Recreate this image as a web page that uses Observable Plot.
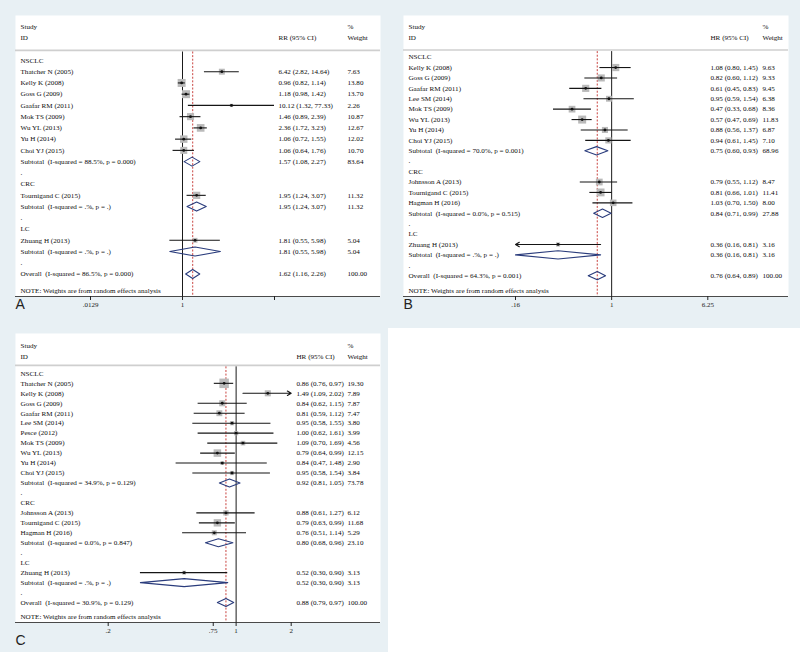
<!DOCTYPE html>
<html><head><meta charset="utf-8">
<script src="https://cdn.jsdelivr.net/npm/d3@7"></script>
<script src="https://cdn.jsdelivr.net/npm/@observablehq/plot@0.6"></script>
<style>
body{margin:0;background:#fff;}
#fig{position:relative;width:800px;height:652px;background:#e8f0f4;overflow:hidden;}
#blank{position:absolute;left:388px;top:328px;width:412px;height:324px;background:#fff;}
.panel{position:absolute;width:400px;}
</style></head><body>
<div id="fig"><div id="blank"></div></div>
<script>
const groups = ["NSCLC", "CRC", "LC"];

// ---- Panel A (RR) ----
const studyA  = ["Thatcher N (2005)", "Kelly K (2008)", "Goss G (2009)", "Gaafar RM (2011)", "Mok TS (2009)", "Wu YL (2013)", "Yu H (2014)", "Choi YJ (2015)", "Tournigand C (2015)", "Zhuang H (2013)"];
const groupA  = ["NSCLC","NSCLC","NSCLC","NSCLC","NSCLC","NSCLC","NSCLC","NSCLC","CRC","LC"];
const estA    = [6.42, 0.96, 1.18, 10.12, 1.46, 2.36, 1.06, 1.06, 1.95, 1.81];
const lowA    = [2.82, 0.82, 0.98, 1.32, 0.89, 1.72, 0.72, 0.64, 1.24, 0.55];
const highA   = [14.64, 1.14, 1.42, 77.33, 2.39, 3.23, 1.55, 1.76, 3.07, 5.98];
const weightA = [7.63, 13.80, 13.70, 2.26, 10.87, 12.67, 12.02, 10.70, 11.32, 5.04];
const sumLabelA  = ["Subtotal  (I-squared = 88.5%, p = 0.000)", "Subtotal  (I-squared = .%, p = .)", "Subtotal  (I-squared = .%, p = .)", "Overall  (I-squared = 86.5%, p = 0.000)"];
const sumEstA    = [1.57, 1.95, 1.81, 1.62];
const sumLowA    = [1.08, 1.24, 0.55, 1.16];
const sumHighA   = [2.27, 3.07, 5.98, 2.26];
const sumWeightA = [83.64, 11.32, 5.04, 100.00];
const tickValA = [0.01293, 1, 77.33];
const tickLabA = [".0129", "1", "77.3"];
const effectA = "RR (95% CI)";

// ---- Panel B (HR) ----
const studyB  = ["Kelly K (2008)", "Goss G (2009)", "Gaafar RM (2011)", "Lee SM (2014)", "Mok TS (2009)", "Wu YL (2013)", "Yu H (2014)", "Choi YJ (2015)", "Johnsson A (2013)", "Tournigand C (2015)", "Hagman H (2016)", "Zhuang H (2013)"];
const groupB  = ["NSCLC","NSCLC","NSCLC","NSCLC","NSCLC","NSCLC","NSCLC","NSCLC","CRC","CRC","CRC","LC"];
const estB    = [1.08, 0.82, 0.61, 0.95, 0.47, 0.57, 0.88, 0.94, 0.79, 0.81, 1.03, 0.36];
const lowB    = [0.80, 0.60, 0.45, 0.59, 0.33, 0.47, 0.56, 0.61, 0.55, 0.66, 0.70, 0.16];
const highB   = [1.45, 1.12, 0.83, 1.54, 0.68, 0.69, 1.37, 1.45, 1.12, 1.01, 1.50, 0.81];
const weightB = [9.63, 9.33, 9.45, 6.38, 8.36, 11.83, 6.87, 7.10, 8.47, 11.41, 8.00, 3.16];
const sumLabelB  = ["Subtotal  (I-squared = 70.0%, p = 0.001)", "Subtotal  (I-squared = 0.0%, p = 0.515)", "Subtotal  (I-squared = .%, p = .)", "Overall  (I-squared = 64.3%, p = 0.001)"];
const sumEstB    = [0.75, 0.84, 0.36, 0.76];
const sumLowB    = [0.60, 0.71, 0.16, 0.64];
const sumHighB   = [0.93, 0.99, 0.81, 0.89];
const sumWeightB = [68.96, 27.88, 3.16, 100.00];
const tickValB = [0.16, 1, 6.25];
const tickLabB = [".16", "1", "6.25"];
const effectB = "HR (95% CI)";

// ---- Panel C (HR) ----
const studyC  = ["Thatcher N (2005)", "Kelly K (2008)", "Goss G (2009)", "Gaafar RM (2011)", "Lee SM (2014)", "Pesce (2012)", "Mok TS (2009)", "Wu YL (2013)", "Yu H (2014)", "Choi YJ (2015)", "Johnsson A (2013)", "Tournigand C (2015)", "Hagman H (2016)", "Zhuang H (2013)"];
const groupC  = ["NSCLC","NSCLC","NSCLC","NSCLC","NSCLC","NSCLC","NSCLC","NSCLC","NSCLC","NSCLC","CRC","CRC","CRC","LC"];
const estC    = [0.86, 1.49, 0.84, 0.81, 0.95, 1.00, 1.09, 0.79, 0.84, 0.95, 0.88, 0.79, 0.76, 0.52];
const lowC    = [0.76, 1.09, 0.62, 0.59, 0.58, 0.62, 0.70, 0.64, 0.47, 0.58, 0.61, 0.63, 0.51, 0.30];
const highC   = [0.97, 2.02, 1.15, 1.12, 1.55, 1.61, 1.69, 0.99, 1.48, 1.54, 1.27, 0.99, 1.14, 0.90];
const weightC = [19.30, 7.89, 7.87, 7.47, 3.80, 3.99, 4.56, 12.15, 2.90, 3.84, 6.12, 11.68, 5.29, 3.13];
const sumLabelC  = ["Subtotal  (I-squared = 34.9%, p = 0.129)", "Subtotal  (I-squared = 0.0%, p = 0.847)", "Subtotal  (I-squared = .%, p = .)", "Overall  (I-squared = 30.9%, p = 0.129)"];
const sumEstC    = [0.92, 0.80, 0.52, 0.88];
const sumLowC    = [0.81, 0.68, 0.30, 0.79];
const sumHighC   = [1.05, 0.96, 0.90, 0.97];
const sumWeightC = [73.78, 23.10, 3.13, 100.00];
const tickValC = [0.2, 0.75, 1, 2];
const tickLabC = [".2", ".75", "1", "2"];
const effectC = "HR (95% CI)";

const noteText = "NOTE: Weights are from random effects analysis";

function buildRows(study, group, est, lo, hi, w, sLab, sEst, sLo, sHi, sW) {
  const labels = [], studies = [], summaries = [];
  let r = 0;
  groups.forEach((g, gi) => {
    labels.push({row: r, text: g}); r++;
    study.forEach((s, i) => {
      if (group[i] === g) { studies.push({row: r, label: s, est: est[i], lo: lo[i], hi: hi[i], w: w[i]}); r++; }
    });
    summaries.push({row: r, label: sLab[gi], est: sEst[gi], lo: sLo[gi], hi: sHi[gi], w: sW[gi]}); r++;
    labels.push({row: r, text: "."}); r++;
  });
  summaries.push({row: r, label: sLab[3], est: sEst[3], lo: sLo[3], hi: sHi[3], w: sW[3]});
  return {labels, studies, summaries};
}

function forest(p) {
  const {labels, studies, summaries} = p.rows;
  const overall = summaries[summaries.length - 1];
  const [dmin, dmax] = p.xDomain;
  const clamp = v => Math.max(dmin, Math.min(dmax, v));
  const leftArrow = d => d.lo <= dmin * 1.001;
  const rightArrow = d => d.hi > dmax * 1.001;
  const plain = studies.filter(d => !leftArrow(d) && !rightArrow(d));
  const arrows = studies.filter(d => leftArrow(d) || rightArrow(d))
    .map(d => leftArrow(d) ? {row: d.row, from: clamp(d.hi), to: dmin} : {row: d.row, from: clamp(d.lo), to: dmax});
  const h = 0.4;
  const diamonds = summaries.flatMap((s, i) => [
    {id: i, x: clamp(s.lo), y: s.row}, {id: i, x: s.est, y: s.row - h},
    {id: i, x: clamp(s.hi), y: s.row}, {id: i, x: s.est, y: s.row + h},
    {id: i, x: clamp(s.lo), y: s.row}
  ]);
  const names = [...labels.map(d => ({row: d.row, text: d.text})),
                 ...studies.map(d => ({row: d.row, text: d.label})),
                 ...summaries.map(d => ({row: d.row, text: d.label})),
                 {row: overall.row + 1.45, text: noteText},
                 {row: p.studyRow, text: "Study"}, {row: p.idRow, text: "ID"}];
  const all = [...studies, ...summaries];
  const cis = [...all.map(d => ({row: d.row, text: `${d.est.toFixed(2)} (${d.lo.toFixed(2)}, ${d.hi.toFixed(2)})`})),
               {row: p.idRow, text: p.effect}];
  const ws = [...all.map(d => ({row: d.row, text: d.w.toFixed(2)})),
              {row: p.studyRow, text: "%"}, {row: p.idRow, text: "Weight"}];
  const tickMap = new Map(p.ticks.map((t, i) => [t, p.tickLabels[i]]));
  const wmax = d3.max(studies, d => d.w);
  const textStyle = {y: "row", text: "text", frameAnchor: "left", textAnchor: "start", lineAnchor: "middle", fill: "#0d0d0d", fontSize: 7.1};
  return Plot.plot({
    width: 400, height: p.height,
    marginLeft: p.mL, marginRight: p.mR, marginTop: p.mT, marginBottom: p.mB,
    style: {fontFamily: "'Liberation Serif', serif", fontSize: "7px", background: "transparent", overflow: "visible"},
    x: {type: "log", domain: p.xDomain, range: p.xRange, label: null},
    y: {domain: [-4, p.yMax], reverse: true, axis: null},
    r: {domain: [0, wmax], range: [0, p.boxMax / Math.sqrt(Math.PI)]},
    marks: [
      Plot.frame({fill: "white", stroke: null}),
      Plot.ruleY([p.sepRow], {stroke: "#cfcfcf", strokeWidth: 1.6}),
      Plot.ruleX([1], {y1: p.sepRow + 0.15, y2: p.yMax, stroke: "#1a1a1a", strokeWidth: 1}),
      Plot.ruleX([overall.est], {y1: p.sepRow + 0.15, y2: p.yMax, stroke: "#c9433f", strokeWidth: 1, strokeDasharray: "2,1.6"}),
      Plot.dot(studies, {x: "est", y: "row", r: "w", symbol: "square", fill: "#bababa", stroke: null}),
      Plot.ruleY(plain, {y: "row", x1: d => clamp(d.lo), x2: d => clamp(d.hi), stroke: "#151515", strokeWidth: 1.1}),
      Plot.arrow(arrows, {x1: "from", x2: "to", y1: "row", y2: "row", stroke: "#151515", strokeWidth: 1.1, headLength: 6}),
      Plot.dot(studies, {x: "est", y: "row", r: 1.4, fill: "#111", stroke: null}),
      Plot.line(diamonds, {x: "x", y: "y", z: "id", stroke: "#2a3c7c", strokeWidth: 1.1, curve: "linear"}),
      Plot.ruleY([p.yMax], {stroke: "#4a4a4a", strokeWidth: 1}),
      Plot.axisX({ticks: p.ticks, tickFormat: d => tickMap.get(d), tickSize: 4, tickPadding: 2, fontSize: 7, color: "#222", label: null}),
      Plot.text(names, {...textStyle, dx: p.labelDx}),
      Plot.text(cis, {...textStyle, dx: p.ciDx}),
      Plot.text(ws, {...textStyle, dx: p.wDx}),
      Plot.text([p.letter], {frameAnchor: "bottom-left", textAnchor: "start", lineAnchor: "middle", dy: p.letterDy, fontSize: 14, fontFamily: "'Liberation Sans', Arial, sans-serif", fill: "#222"})
    ]
  });
}

const panels = [
  {letter: "A", left: 0, top: 0, height: 325, mL: 15, mR: 20, mT: 15, mB: 29,
   xDomain: [0.01293, 77.33], xRange: [90, 274], yMax: 21, sepRow: -0.9, studyRow: -3, idRow: -2,
   labelDx: 5, ciDx: 263, wDx: 332, boxMax: 8, letterDy: 8, ticks: tickValA, tickLabels: tickLabA, effect: effectA,
   rows: buildRows(studyA, groupA, estA, lowA, highA, weightA, sumLabelA, sumEstA, sumLowA, sumHighA, sumWeightA)},
  {letter: "B", left: 400, top: 0, height: 325, mL: 3, mR: 12, mT: 15, mB: 29,
   xDomain: [0.16, 6.25], xRange: [115, 307.3], yMax: 23, sepRow: -0.68, studyRow: -2.95, idRow: -1.85,
   labelDx: 5, ciDx: 307, wDx: 359, boxMax: 8, letterDy: 8, ticks: tickValB, tickLabels: tickLabB, effect: effectB,
   rows: buildRows(studyB, groupB, estB, lowB, highB, weightB, sumLabelB, sumEstB, sumLowB, sumHighB, sumWeightB)},
  {letter: "C", left: 0, top: 325, height: 327, mL: 15, mR: 20, mT: 8, mB: 30,
   xDomain: [0.2, 2], xRange: [107.7, 290.7], yMax: 25, sepRow: -0.8, studyRow: -2.8, idRow: -1.7,
   labelDx: 5, ciDx: 281, wDx: 332, boxMax: 9.5, letterDy: 18, ticks: tickValC, tickLabels: tickLabC, effect: effectC,
   rows: buildRows(studyC, groupC, estC, lowC, highC, weightC, sumLabelC, sumEstC, sumLowC, sumHighC, sumWeightC)}
];

const fig = document.getElementById("fig");
for (const p of panels) {
  const div = document.createElement("div");
  div.className = "panel";
  div.style.left = p.left + "px";
  div.style.top = p.top + "px";
  div.appendChild(forest(p));
  fig.appendChild(div);
}
</script>
</body></html>
